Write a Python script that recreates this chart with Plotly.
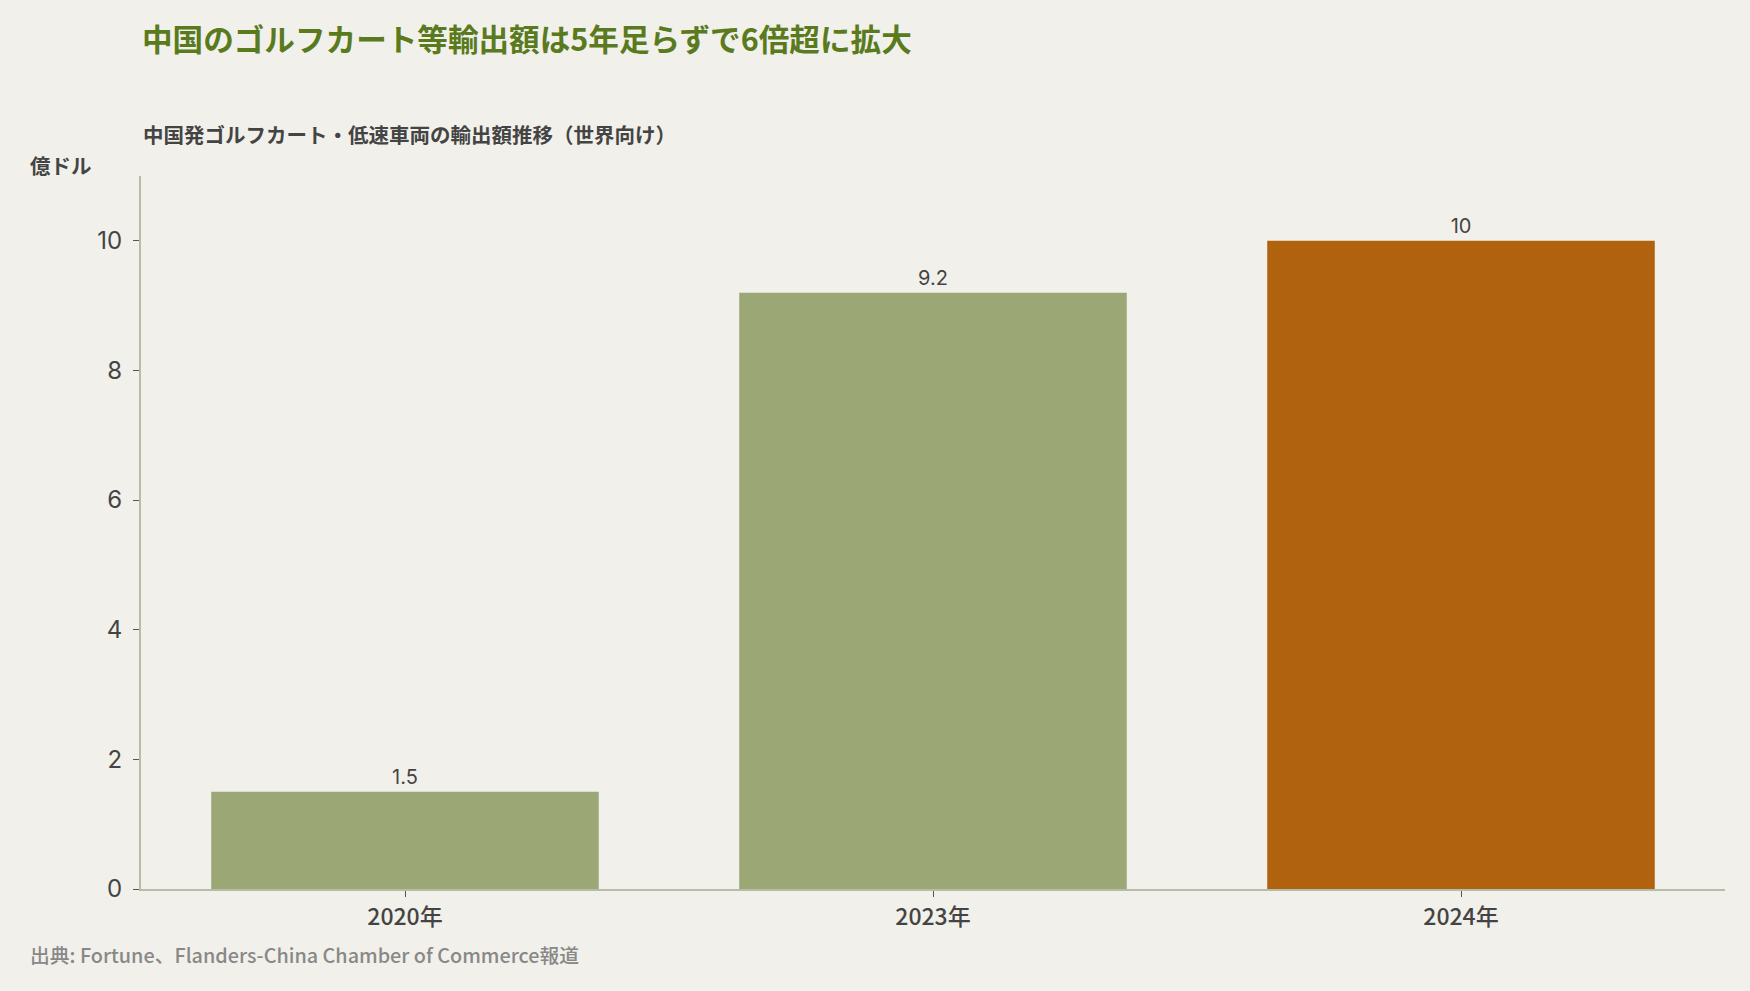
import plotly.graph_objects as go

# data
years = ["2020年", "2023年", "2024年"]
export_values = [1.5, 9.2, 10]
value_labels = ["1.5", "9.2", "10"]
bar_colors = ["#9ba876", "#9ba876", "#b0620f"]

FONT = "Noto Sans CJK JP"
NUM_FONT = "Inter"

fig = go.Figure()
fig.add_trace(go.Bar(
    x=years,
    y=export_values,
    marker=dict(color=bar_colors, line=dict(width=0)),
    text=value_labels,
    textposition="outside",
    textfont=dict(family=NUM_FONT, size=20, color="#444444"),
    cliponaxis=False,
    hoverinfo="skip",
))

fig.update_layout(
    width=1750,
    height=991,
    paper_bgcolor="#f2f0ea",
    plot_bgcolor="#f2f0ea",
    margin=dict(l=141, r=25, t=176, b=102),
    bargap=0.266,
    showlegend=False,
    font=dict(family=FONT, color="#444444"),
    title=dict(
        text="<b>中国のゴルフカート等輸出額は5年足らずで6倍超に拡大</b>",
        x=142 / 1750, xanchor="left",
        y=1 - 40 / 991, yanchor="middle",
        font=dict(family=FONT, size=30.6, color="#5a7a1e"),
    ),
)

fig.update_yaxes(
    range=[0, 11],
    tickvals=[0, 2, 4, 6, 8, 10],
    showgrid=False,
    zeroline=False,
    showline=True,
    linecolor="#b5bca8",
    linewidth=2,
    ticks="outside",
    ticklen=6,
    tickcolor="#555555",
    ticklabelstandoff=6,
    tickfont=dict(family=NUM_FONT, size=24, color="#444444"),
)
fig.update_xaxes(
    showgrid=False,
    showline=True,
    linecolor="#b5bca8",
    linewidth=2,
    ticks="outside",
    ticklen=6,
    tickcolor="#555555",
    tickfont=dict(family=FONT, size=23, color="#444444", weight=500),
)

fig.add_annotation(
    text="<b>中国発ゴルフカート・低速車両の輸出額推移（世界向け）</b>",
    xref="paper", yref="paper", x=0, y=(889 - 134) / 713,
    xanchor="left", yanchor="middle", showarrow=False,
    font=dict(family=FONT, size=20.5, color="#444444"),
)
fig.add_annotation(
    text="<b>億ドル</b>",
    xref="paper", yref="paper", x=(28 - 141) / 1584, y=(889 - 165) / 713,
    xanchor="left", yanchor="middle", showarrow=False,
    font=dict(family=FONT, size=20.5, color="#444444"),
)
fig.add_annotation(
    text="出典: Fortune、Flanders-China Chamber of Commerce報道",
    xref="paper", yref="paper", x=(28 - 141) / 1584, y=(889 - 954) / 713,
    xanchor="left", yanchor="middle", showarrow=False,
    font=dict(family=FONT, size=19.8, color="#888888", weight=500),
)

fig.write_html(
    "out.html",
    config={"displayModeBar": False},
    post_script="document.body.style.margin='0';",
)
